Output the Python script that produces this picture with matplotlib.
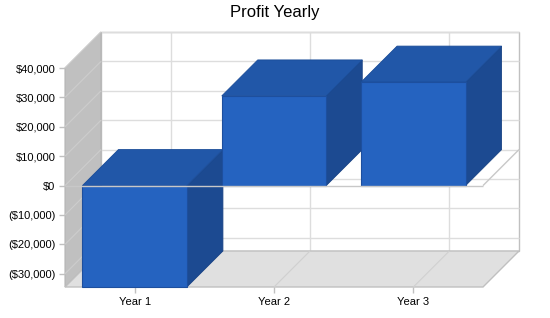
import matplotlib
matplotlib.use('Agg')
import matplotlib.pyplot as plt
from matplotlib.patches import Polygon

plt.rcParams['font.family'] = ['Liberation Sans', 'DejaVu Sans']

############### Data ################
categories = ['Year 1', 'Year 2', 'Year 3']
profit = [-38000, 30500, 35200]
y_ticks = [-30000, -20000, -10000, 0, 10000, 20000, 30000, 40000]
y_min, y_max = -34500, 40000

front_c = '#2563c0'
top_c = '#2157a8'
side_c = '#1c4a91'


def money(v):
    s = '${:,.0f}'.format(abs(v))
    return '(' + s + ')' if v < 0 else s


fig = plt.figure(figsize=(5.5, 3.18), dpi=100)
# front plane of the fake 3d box
w_px, h_px = 418, 219
ax = fig.add_axes([65 / 550, 31 / 318, w_px / 550, h_px / 318])
n = len(categories)
x0, x1 = -0.5, n - 0.5
ax.set_xlim(x0, x1)
ax.set_ylim(y_min, y_max)
ax.patch.set_visible(False)
for s in ax.spines.values():
    s.set_visible(False)

# depth offset (pixels) turned into data units
depth_px = 36
kx = depth_px / (w_px / n)
ky = depth_px / (h_px / (y_max - y_min))


def P(x, y, z):
    return (x + kx * z, y + ky * z)


def face(pts, fc, ec='none', lw=0, z=1):
    ax.add_patch(Polygon(pts, closed=True, facecolor=fc, edgecolor=ec,
                         linewidth=lw, zorder=z, clip_on=False))


def line(p, q, c, lw=1, z=1):
    ax.plot([p[0], q[0]], [p[1], q[1]], color=c, lw=lw, zorder=z,
            clip_on=False, solid_capstyle='butt')


# back wall + grid
face([P(x0, y_min, 1), P(x1, y_min, 1), P(x1, y_max, 1), P(x0, y_max, 1)],
     'white', '#c0c0c0', 1, z=1)
for t in y_ticks:
    line(P(x0, t, 1), P(x1, t, 1), '#dddddd', z=1.1)
for i in range(n):
    line(P(i, y_min, 1), P(i, y_max, 1), '#dddddd', z=1.1)

# left wall
face([P(x0, y_min, 0), P(x0, y_max, 0), P(x0, y_max, 1), P(x0, y_min, 1)],
     '#c0c0c0', '#b4b4b4', 0.8, z=1.2)
for t in y_ticks:
    line(P(x0, t, 0), P(x0, t, 1), '#cdcdcd', lw=0.8, z=1.25)

# floor
face([P(x0, y_min, 0), P(x1, y_min, 0), P(x1, y_min, 1), P(x0, y_min, 1)],
     '#e0e0e0', '#c0c0c0', 1, z=1.3)
for i in range(n):
    line(P(i, y_min, 0), P(i, y_min, 1), '#d0d0d0', lw=0.8, z=1.35)

# zero plane edges
line(P(x1, 0, 0), P(x1, 0, 1), '#c8c8c8', z=1.4)

# bars
bw = 0.75
for i, v in enumerate(profit):
    lo = max(min(v, 0), y_min)
    hi = min(max(v, 0), y_max)
    l, r = i - bw / 2, i + bw / 2
    face([P(r, lo, 0), P(r, hi, 0), P(r, hi, 1), P(r, lo, 1)],
         side_c, '#1a4485', 0.6, z=2 + i)
    face([P(l, hi, 0), P(r, hi, 0), P(r, hi, 1), P(l, hi, 1)],
         top_c, '#1a4c98', 0.6, z=2 + i)
    face([P(l, lo, 0), P(r, lo, 0), P(r, hi, 0), P(l, hi, 0)],
         front_c, '#1d4f9e', 0.8, z=2 + i)

line(P(x0, 0, 0), P(x1, 0, 0), '#c8c8c8', z=6)

ax.set_yticks(y_ticks, [money(t) for t in y_ticks])
ax.set_xticks(range(n), categories)
ax.tick_params(axis='both', length=4.5, width=1, color='#c0c0c0',
               labelsize=8, pad=2.5, labelcolor='black')

fig.text(0.5, 1 - 12 / 318, 'Profit Yearly', ha='center', va='center',
         fontsize=12)

fig.savefig('out.png', dpi=100)
